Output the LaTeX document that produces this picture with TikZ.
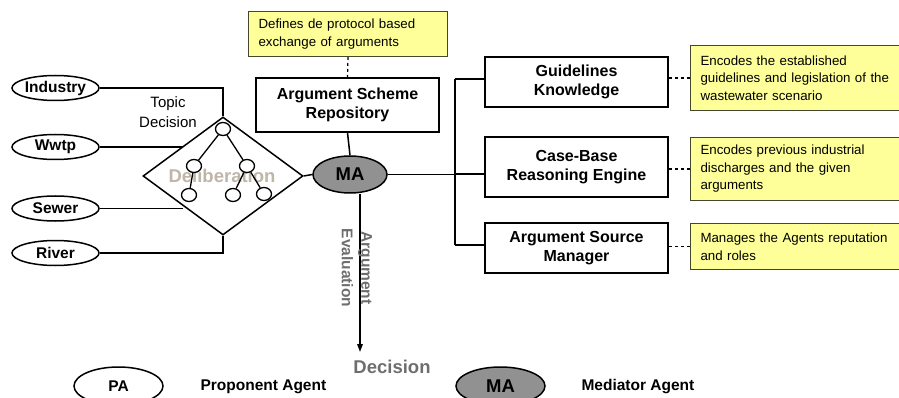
\documentclass[tikz,border=0pt]{standalone}
\usepackage{fontspec}
\setmainfont{Liberation Sans}
\usetikzlibrary{shapes.geometric,arrows.meta,calc}
\definecolor{notefill}{RGB}{255,255,153}
\definecolor{noteline}{RGB}{70,70,45}
\definecolor{magray}{RGB}{145,145,145}
\definecolor{txtgray}{RGB}{110,110,110}
\definecolor{delib}{RGB}{190,182,168}
\begin{document}
\begin{tikzpicture}[x=1pt,y=-1pt,
  box/.style={draw, line width=1.6pt, fill=white, align=center, inner sep=0pt,
    font=\fontsize{16}{19.5}\selectfont\bfseries},
  note/.style={draw=noteline, line width=1pt, fill=notefill, align=left,
    inner xsep=10pt, inner ysep=0pt, anchor=north west,
    font=\fontsize{13.3}{17.5}\selectfont},
  agent/.style={ellipse, draw, line width=1.5pt, fill=white, inner sep=0pt,
    font=\fontsize{15.5}{18}\selectfont\bfseries},
  link/.style={line width=1.5pt},
  dashlink/.style={line width=1.2pt, dash pattern=on 3pt off 3pt},
  treenode/.style={ellipse, draw, line width=1.3pt, fill=white,
    minimum width=15pt, minimum height=13pt, inner sep=0pt},
  treeedge/.style={line width=1.3pt},
  bigbold/.style={font=\fontsize{18.5}{20}\selectfont\bfseries}
]
\useasboundingbox (0,0) rectangle (899,398);

% --- centre column
\node[note, text width=179pt, minimum height=45pt] (n0) at (248,11)
  {Defines de protocol based\\exchange of arguments};
\node[box, minimum width=183pt, minimum height=54pt] (asr) at (347.5,105)
  {Argument Scheme\\Repository};
\node[agent, fill=magray, minimum width=74pt, minimum height=37pt, bigbold] (ma)
  at (350,174.5) {MA};
\draw[dashlink] (n0.south) -- (asr.north);
\draw[link] (asr.south) -- (ma.north);

% --- right column
\node[box, minimum width=183pt, minimum height=50pt] (gk) at (576.5,82)
  {Guidelines\\Knowledge};
\node[box, minimum width=183pt, minimum height=60pt] (cbr) at (576.5,167)
  {Case-Base\\Reasoning Engine};
\node[box, minimum width=183pt, minimum height=50pt] (asm) at (576.5,248)
  {Argument Source\\Manager};

\node[note, text width=195pt, minimum height=65pt] (n1) at (690,45)
  {Encodes the established\\guidelines and legislation of the\\wastewater scenario};
\node[note, text width=195pt, minimum height=63pt] (n2) at (690,137)
  {Encodes previous industrial\\discharges and the given\\arguments};
\node[note, text width=195pt, minimum height=46pt] (n3) at (690,223)
  {Manages the Agents reputation\\and roles};

\coordinate (b1) at (455,79);
\coordinate (b2) at (455,174);
\coordinate (b3) at (455,245);
\draw[link] (ma.east) -- (ma.east -| b2);
\draw[link] (b1) -- (b3);
\draw[link] (b1) -- (gk.west |- b1);
\draw[link] (b2) -- (cbr.west |- b2);
\draw[link] (b3) -- (asm.west |- b3);
\draw[dashlink] (gk.east |- n1.west) -- (n1.west);
\draw[dashlink] (cbr.east |- n2.west) -- (n2.west);
\draw[dashlink] (asm.east |- n3.west) -- (n3.west);

% --- left side
\node[diamond, draw, line width=1.5pt, minimum width=160pt, minimum height=118pt,
  inner sep=0pt] (dia) at (223,176) {};
\node[agent, minimum width=87pt, minimum height=25pt] (ind) at (55.5,88) {Industry};
\node[agent, minimum width=87pt, minimum height=25pt] (wwtp) at (55.5,147) {Wwtp};
\node[agent, minimum width=87pt, minimum height=25pt] (sew) at (55.5,208.5) {Sewer};
\node[agent, minimum width=87pt, minimum height=25pt] (riv) at (55.5,253) {River};

\draw[link] (ind.east) -| (dia.north);
\draw[link] (wwtp.east) -- (wwtp.east -| {$(dia.west)!0.5!(dia.north)$});
\draw[link] (sew.east) -- (sew.east -| {$(dia.west)!0.5!(dia.south)$});
\draw[link] (riv.east) -| (dia.south);
\draw[link] (dia.east) -- (ma.west);

\node[font=\fontsize{15}{20}\selectfont, align=center] (td) at (168,112) {Topic\\Decision};

\node[bigbold, text=delib] (dl) at (222,176) {Deliberation};
\node[treenode] (t0) at (223,129) {};
\node[treenode] (t1) at (194,166) {};
\node[treenode] (t2) at (247,166) {};
\node[treenode] (t3) at (189,195) {};
\node[treenode] (t4) at (233,195) {};
\node[treenode] (t5) at (264,194) {};
\draw[treeedge] (t0) -- (t1);
\draw[treeedge] (t0) -- (t2);
\draw[treeedge] (t1) -- (t3);
\draw[treeedge] (t2) -- (t4);
\draw[treeedge] (t2) -- (t5);

% --- evaluation arrow
\coordinate (tip) at (360,352);
\draw[link, -{Triangle[length=8pt,width=5.5pt]}] (ma.south -| tip) -- (tip);
\node[rotate=-90, font=\fontsize{15.5}{19.5}\selectfont\bfseries, text=txtgray,
  align=center] (ae) at (357,268) {Argument\\Evaluation};
\node[bigbold, text=txtgray] (dec) at (392,367) {Decision};

% --- legend
\node[agent, minimum width=89pt, minimum height=38pt] (pa) at (118.5,386) {PA};
\node[font=\fontsize{15.5}{18}\selectfont\bfseries, anchor=west] (pal) at (197,387)
  {Proponent Agent};
\node[agent, fill=magray, minimum width=89pt, minimum height=38pt, bigbold] (mal)
  at (500.5,386) {MA};
\node[font=\fontsize{15.5}{18}\selectfont\bfseries, anchor=west] (mall) at (578,387)
  {Mediator Agent};
\end{tikzpicture}
\end{document}
